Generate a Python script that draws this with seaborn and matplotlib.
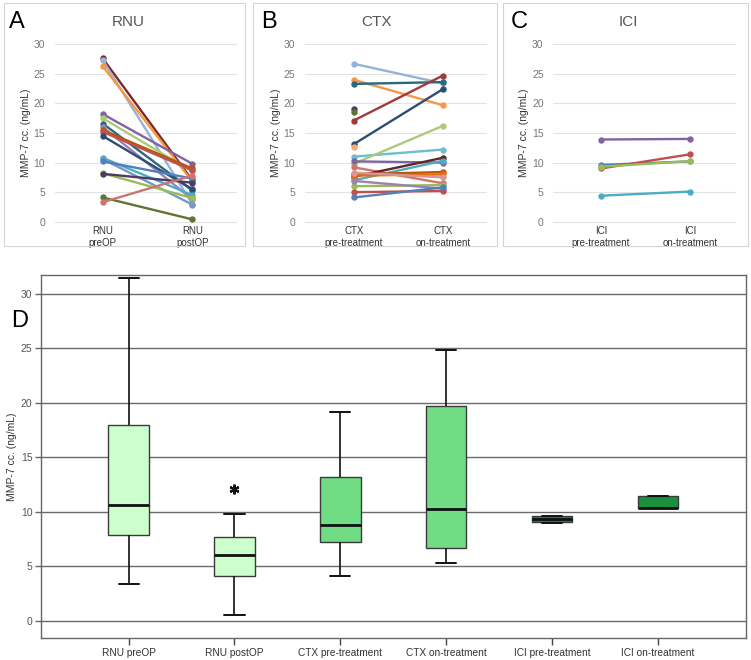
import numpy as np
import pandas as pd
import seaborn as sns
import matplotlib.pyplot as plt
from matplotlib.patches import Rectangle

# paired values, panel A-C (pre, post/on)
rnu_pre = [27.6, 27.3, 26.3, 18.2, 17.5, 16.6, 16.0, 15.5, 15.2, 14.5, 10.8, 10.6, 10.2, 8.2, 8.1, 4.1, 3.3]
rnu_post = [7.0, 3.0, 6.8, 9.8, 8.5, 5.3, 3.8, 9.0, 8.7, 5.5, 4.5, 2.9, 7.3, 4.0, 6.6, 0.4, 7.8]
rnu_colors = ['#772C2A', '#95B3D7', '#F79646', '#8064A2', '#AFC97A', '#276A7C', '#9983B5', '#B65708',
              '#C0504D', '#2C4D75', '#4BACC6', '#729ACA', '#4F81BD', '#9BBB59', '#4D3B62', '#5F7530', '#CD7371']

ctx_pre = [26.7, 24.0, 23.3, 19.1, 18.6, 17.1, 13.1, 12.6, 11.0, 9.8, 10.2, 9.2, 7.6, 7.0, 8.0, 7.8, 6.0, 6.9, 5.0, 4.1, 8.3]
ctx_on = [23.4, 19.7, 23.6, np.nan, np.nan, 24.7, 22.4, np.nan, 12.2, 16.2, 10.0, 6.5, 10.8, 10.3, 8.4, 8.0, 6.2, 5.6, 5.2, 5.8, 7.5]
ctx_colors = ['#95B3D7', '#F79646', '#276A7C', '#4D3B62', '#5F7530', '#9F3B38', '#2C4D75', '#F9AB6B',
              '#6FBDD1', '#AFC97A', '#8064A2', '#CD7371', '#632523', '#4BACC6', '#B65708', '#E46C0A',
              '#9BBB59', '#9983B5', '#C0504D', '#4F81BD', '#D99694']

ici_pre = [9.6, 9.0, 9.3, 13.9, 4.4]
ici_on = [10.2, 11.4, 10.25, 14.0, 5.1]
ici_colors = ['#4F81BD', '#C0504D', '#9BBB59', '#8064A2', '#4BACC6']

# box plot summary (min, q1, median, q3, max), panel D
box_groups = ['RNU preOP', 'RNU postOP', 'CTX pre-treatment', 'CTX on-treatment', 'ICI pre-treatment', 'ICI on-treatment']
box_min = [3.34, 0.55, 4.13, 5.27, 8.95, 10.31]
box_q1 = [7.86, 4.10, 7.25, 6.64, 9.00, 10.31]
box_med = [10.64, 6.03, 8.78, 10.25, 9.30, 10.31]
box_q3 = [17.90, 7.68, 13.18, 19.72, 9.62, 11.44]
box_max = [31.40, 9.82, 19.12, 24.80, 9.62, 11.44]
box_colors = ['#CCFFCC', '#CCFFCC', '#70DC84', '#70DC84', '#1A8F40', '#1A8F40']
outlier_group = 1
outlier_value = 12.06

sns.set_theme(style='white')
plt.rcParams['font.family'] = ['Liberation Sans', 'DejaVu Sans']

W, H = 751, 660
fig = plt.figure(figsize=(W / 100, H / 100), dpi=100)


def px_axes(l, t, r, b):
    return fig.add_axes([l / W, 1 - b / H, (r - l) / W, (b - t) / H])


def pair_panel(l, r, xpre, xpost, pre, post, colors, labels, title, letter, frame):
    ax = px_axes(l, 41.3, r, 224.7)
    rows = []
    for i, (a, b) in enumerate(zip(pre, post)):
        rows.append({'subject': i, 'time': labels[0], 'value': a})
        rows.append({'subject': i, 'time': labels[1], 'value': b})
    df = pd.DataFrame(rows).dropna()
    sns.lineplot(data=df, x='time', y='value', hue='subject', palette=colors, marker='o',
                 markersize=4.6, markeredgewidth=0, linewidth=1.7, errorbar=None,
                 legend=False, sort=False, ax=ax)
    span = (xpost - xpre)
    ax.set_xlim((l - xpre) / span, (r - xpre) / span)
    ax.set_ylim(-0.5, 30.5)
    ax.set_yticks(range(0, 31, 5))
    ax.set_xticks([0, 1])
    ax.set_xticklabels(labels)
    ax.yaxis.grid(True, color='#e3e3e3', linewidth=0.8)
    ax.set_axisbelow(True)
    for s in ax.spines.values():
        s.set_visible(False)
    ax.tick_params(axis='y', length=0, pad=7, labelsize=7.5, labelcolor='#777777')
    ax.tick_params(axis='x', length=0, pad=1, labelsize=7, labelcolor='#333333')
    ax.set_xlabel('')
    ax.set_ylabel('MMP-7 cc. (ng/mL)', fontsize=7.5, color='#333333', labelpad=2)
    fig.text(title[1] / W, 1 - 22.5 / H, title[0], ha='center', va='center', fontsize=11, color='#555555')
    fig.text(letter[1] / W, 1 - 21.5 / H, letter[0], ha='left', va='center', fontsize=17, color='black')
    fl, ft, fr, fb = frame
    fig.add_artist(Rectangle((fl / W, 1 - fb / H), (fr - fl) / W, (fb - ft) / H,
                             transform=fig.transFigure, fill=False, ec='#d4d4d4', lw=0.8))
    return ax


pair_panel(55, 237.3, 102.7, 192.3, rnu_pre, rnu_post, rnu_colors,
           ['RNU\npreOP', 'RNU\npostOP'], ('RNU', 128), ('A', 9), (4, 3, 245, 246))
pair_panel(305, 487.3, 353.7, 442.7, ctx_pre, ctx_on, ctx_colors,
           ['CTX\npre-treatment', 'CTX\non-treatment'], ('CTX', 377), ('B', 261), (253, 3, 497, 246))
pair_panel(553.3, 736, 601, 690, ici_pre, ici_on, ici_colors,
           ['ICI\npre-treatment', 'ICI\non-treatment'], ('ICI', 628), ('C', 511), (503, 3, 748, 246))

# panel D
box_rows = []
for g, a, b, c, d, e in zip(box_groups, box_min, box_q1, box_med, box_q3, box_max):
    for v in (a, b, c, d, e):
        box_rows.append({'group': g, 'value': v})
box_df = pd.DataFrame(box_rows)

axd = px_axes(40.7, 275, 746, 638)
sns.boxplot(data=box_df, x='group', y='value', hue='group', palette=box_colors, order=box_groups,
            whis=(0, 100), width=0.38, showfliers=False, legend=False, saturation=1,
            linecolor='#3a3a3a', linewidth=1,
            medianprops={'color': '#111111', 'linewidth': 2},
            whiskerprops={'color': '#111111', 'linewidth': 1.2},
            capprops={'color': '#111111', 'linewidth': 1.4}, ax=axd)
axd.plot([outlier_group], [outlier_value], linestyle='none', marker=(6, 2, 0), markersize=7,
         markeredgewidth=1.6, color='#111111')
axd.set_xlim(-0.83, 5.83)
axd.set_ylim(-1.6, 31.7)
axd.set_yticks(range(0, 31, 5))
axd.yaxis.grid(True, color='#6a6a6a', linewidth=1)
axd.set_axisbelow(True)
for s in axd.spines.values():
    s.set_color('#666666')
    s.set_linewidth(1)
axd.tick_params(axis='x', length=5, width=1, color='#444444', pad=2, labelsize=7.3, labelcolor='#333333',
                bottom=True)
axd.tick_params(axis='y', length=4, width=1, color='#666666', pad=2, labelsize=7.5, labelcolor='#555555',
                left=True)
axd.set_xlabel('')
axd.set_ylabel('MMP-7 cc. (ng/mL)', fontsize=7.5, color='#333333', labelpad=3)
fig.text(11 / W, 1 - 321 / H, 'D', ha='left', va='center', fontsize=17, color='black')

fig.savefig('out.png', dpi=100)
